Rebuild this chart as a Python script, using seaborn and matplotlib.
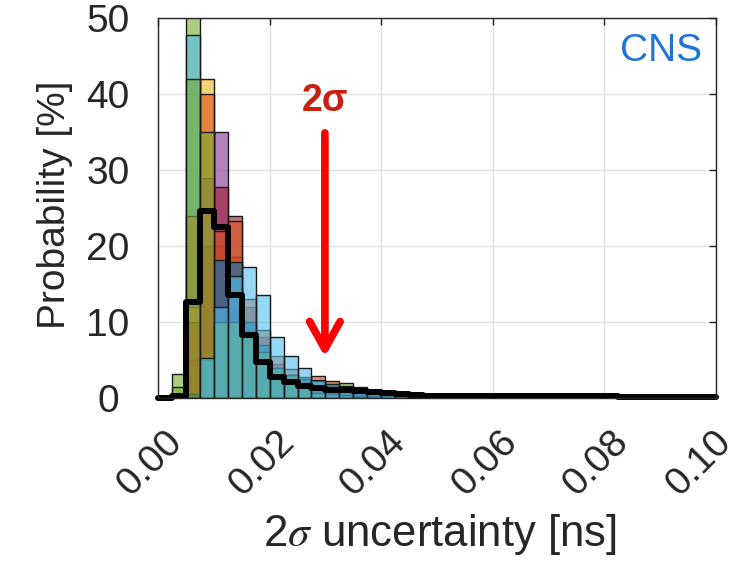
import numpy as np
import pandas as pd
import matplotlib
matplotlib.use("Agg")
import matplotlib.pyplot as plt
import seaborn as sns
from matplotlib.patches import FancyArrowPatch, ArrowStyle
from matplotlib.transforms import ScaledTranslation

# ---------------- data (percent per bin, bin width 0.0025 ns) ----------------
bin_width = 0.0025
green       = [0, 3.2, 58.0, 5.0, 8.0, 6.0, 5.0, 3.5, 2.5, 2.0, 1.6, 1.5, 1.8, 2.0, 1.2, 0.8, 0.5, 0.4, 0.3, 0.2, 0.2, 0.1, 0.1, 0.0]
lightblue_a = [0, 0.4, 47.8, 4.0, 6.0, 8.0, 7.0, 6.0, 4.0, 3.0, 2.0, 1.5, 1.2, 1.0, 0.8, 0.5, 0.4, 0.3, 0.2, 0.2, 0.1, 0.1, 0.1, 0.0]
yellow      = [0, 0.2, 12.0, 42.0, 20.0, 18.5, 10.0, 6.0, 4.0, 3.0, 2.0, 1.5, 1.2, 1.0, 0.8, 0.6, 0.4, 0.3, 0.2, 0.2, 0.1, 0.1, 0.1, 0.0]
purple      = [0, 0.1, 5.0, 29.0, 35.0, 12.0, 9.0, 6.0, 3.5, 2.5, 1.5, 1.2, 1.0, 0.8, 0.6, 0.4, 0.3, 0.2, 0.2, 0.1, 0.1, 0.1, 0.0, 0.0]
darkred     = [0, 0.1, 10.0, 20.0, 27.8, 24.0, 12.0, 8.0, 4.5, 3.0, 2.5, 1.6, 1.3, 1.0, 0.8, 0.5, 0.4, 0.3, 0.2, 0.2, 0.1, 0.1, 0.0, 0.0]
orange      = [0, 0.2, 24.0, 40.0, 22.0, 23.3, 13.0, 9.0, 5.5, 3.8, 2.8, 2.9, 2.2, 1.6, 1.5, 1.0, 0.7, 0.5, 0.4, 0.3, 0.2, 0.2, 0.1, 0.1]
blue        = [0, 0.3, 0.5, 5.0, 18.2, 17.9, 10.0, 7.0, 4.0, 3.0, 2.5, 2.2, 1.6, 1.2, 0.9, 0.7, 0.5, 0.4, 0.3, 0.2, 0.2, 0.1, 0.1, 0.1]
green2      = [0, 1.5, 42.0, 35.0, 10.0, 10.0, 8.0, 6.0, 4.0, 3.0, 2.0, 0.6, 0.5, 0.4, 0.3, 0.2, 0.2, 0.1, 0.1, 0.1, 0.0, 0.0, 0.0, 0.0]
lightblue_b = [0, 0.0, 0.0, 5.2, 12.0, 16.0, 17.2, 13.5, 8.0, 5.5, 3.9, 2.4, 1.8, 1.4, 1.0, 0.7, 0.5, 0.4, 0.3, 0.2, 0.2, 0.1, 0.1, 0.1]

overall = [0, 0.3, 12.6, 24.6, 22.5, 13.5, 8.3, 4.7, 2.8, 2.1, 1.6, 1.3, 1.1, 1.0, 0.9, 0.8,
           0.6, 0.55, 0.4, 0.25, 0.25, 0.25, 0.25, 0.25, 0.25, 0.25, 0.25, 0.25, 0.25, 0.25,
           0.25, 0.25, 0.25, 0.08, 0.08, 0.08, 0.08, 0.08, 0.08, 0.08]

series_names = ["green", "lightblue_a", "yellow", "purple", "darkred", "orange",
                "blue", "green2", "lightblue_b"]
series_vals = [green, lightblue_a, yellow, purple, darkred, orange, blue, green2, lightblue_b]
series_colors = ["#77AC30", "#4DBEEE", "#EDB120", "#7E2F8E", "#A2142F", "#D95319",
                 "#0072BD", "#77AC30", "#4DBEEE"]

xticks = [0.00, 0.02, 0.04, 0.06, 0.08, 0.10]
xticklabels = ["0.00", "0.02", "0.04", "0.06", "0.08", "0.10"]
yticks = [0, 10, 20, 30, 40, 50]
yticklabels = ["0", "10", "20", "30", "40", "50"]

# ---------------- figure ----------------
sns.set_style("white")
plt.rcParams["font.family"] = ["Liberation Sans", "DejaVu Sans"]
plt.rcParams["mathtext.fontset"] = "stix"

fig = plt.figure(figsize=(7.42, 5.66), dpi=100)
ax = fig.add_axes([0.213, 0.297, 0.752, 0.671])

n_all = len(overall)
edges_all = bin_width * np.arange(n_all + 1)
centers_all = edges_all[:-1] + bin_width / 2

for name, vals, col in zip(series_names, series_vals, series_colors):
    n = len(vals)
    df = pd.DataFrame({"x": centers_all[:n], "w": vals})
    sns.histplot(data=df, x="x", weights="w", binwidth=bin_width,
                 binrange=(0, n * bin_width), stat="count",
                 element="bars", color=col, alpha=0.6, edgecolor="#1a1a1a",
                 linewidth=1.0, ax=ax)

df_all = pd.DataFrame({"x": centers_all, "w": overall})
sns.histplot(data=df_all, x="x", weights="w", binwidth=bin_width,
             binrange=(0, n_all * bin_width), stat="count",
             element="step", fill=False, color="black", linewidth=4.3, ax=ax)
for ln in ax.lines:
    ln.set_clip_on(False)

ax.set_xlim(0, 0.1)
ax.set_ylim(0, 50)
ax.set_xticks(xticks)
ax.set_xticklabels(xticklabels, rotation=45, ha="right", va="center",
                   rotation_mode="anchor", fontsize=28, color="#262626")
ax.set_yticks(yticks)
ax.set_yticklabels(yticklabels, ha="center", fontsize=28, color="#262626")
ax.tick_params(direction="in", top=True, right=True, length=5, width=1,
               color="#262626")
ax.tick_params(axis="y", pad=36)
ax.tick_params(axis="x", pad=28)
xlabels = ax.get_xticklabels()
for i, lbl in enumerate(xlabels):
    dx = 0.19 if i < len(xlabels) - 1 else 0.10
    lbl.set_transform(lbl.get_transform() + ScaledTranslation(dx, 0, fig.dpi_scale_trans))

ax.grid(True, color="#e0e0e0", linewidth=1)
ax.set_axisbelow(True)
for s in ax.spines.values():
    s.set_color("#262626")
    s.set_linewidth(1)

ax.set_xlabel(r"2$\sigma$ uncertainty [ns]", fontsize=31.5, color="#262626")
ax.xaxis.set_label_coords(0.505, -0.30)
ax.set_ylabel("Probability [%]", fontsize=28, color="#262626")
ax.yaxis.set_label_coords(-0.153, 0.508)

ax.text(0.975, 0.962, "CNS", transform=ax.transAxes, ha="right", va="top",
        fontsize=28, color="#1f74d6")

ax.text(0.0299, 39.1, "2σ", ha="center", va="center", fontsize=27,
        fontweight="bold", color="#c8200c")
arrow = FancyArrowPatch((0.0299, 34.9), (0.0299, 5.4),
                        arrowstyle=ArrowStyle("->", head_length=0.9, head_width=0.5),
                        mutation_scale=22, color="#ff0000", linewidth=5.5,
                        shrinkA=0, shrinkB=0, zorder=10)
ax.add_patch(arrow)

fig.savefig("out.png", dpi=100, facecolor="white")
